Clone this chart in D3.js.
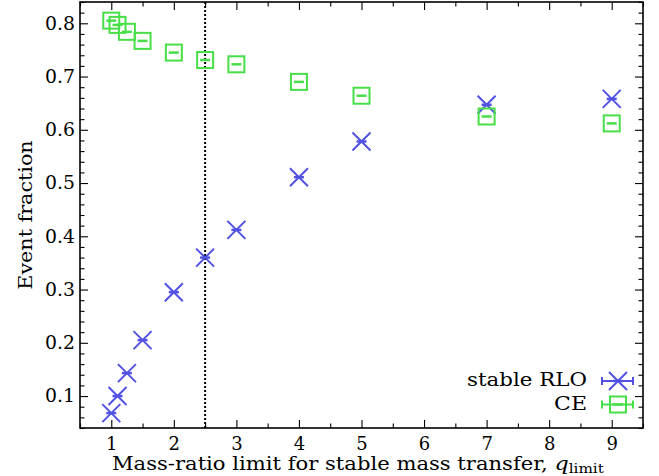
<!DOCTYPE html>
<html>
<head>
<meta charset="utf-8">
<script src="https://cdn.jsdelivr.net/npm/d3@7"></script>
<style>
  html, body { margin: 0; padding: 0; background: #fff; }
  svg text { font-family: "DejaVu Serif", "Liberation Serif", serif; fill: #000; }
</style>
</head>
<body>
<svg id="chart" width="659" height="476"></svg>
<script>
// Mass-ratio limits used for stable mass transfer
const qLimit = [1, 1.1, 1.25, 1.5, 2, 2.5, 3, 4, 5, 7, 9];
// Fraction of events going through stable Roche-lobe overflow
const stableRLO = [0.068, 0.100, 0.143, 0.205, 0.295, 0.360, 0.412, 0.511, 0.578, 0.647, 0.658];
// Fraction of events going through common envelope
const commonEnvelope = [0.805, 0.797, 0.784, 0.767, 0.745, 0.731, 0.723, 0.690, 0.664, 0.625, 0.612];
// Axis ticks
const xTicks = [1, 2, 3, 4, 5, 6, 7, 8, 9];
const yTicks = [0.1, 0.2, 0.3, 0.4, 0.5, 0.6, 0.7, 0.8];
// Reference limit marked by the dotted line
const refLimit = [2.5];

const series = [
  { name: "stable RLO", values: stableRLO, color: "#5151e3", marker: "x" },
  { name: "CE", values: commonEnvelope, color: "#48de48", marker: "square" }
];

const svg = d3.select("#chart");
const margin = { left: 80, right: 16, top: 2, bottom: 48 };
const W = 659, H = 476;
const x = d3.scaleLinear().domain([0.5, 9.5]).range([margin.left, W - margin.right]);
const y = d3.scaleLinear().domain([0.04, 0.84]).range([H - margin.bottom, margin.top]);

const x0 = x.range()[0], x1 = x.range()[1];
const y0 = y.range()[0], y1 = y.range()[1];

// Horizontally stretch a text element about anchor ax so its width becomes w
function stretchTo(sel, w, ax) {
  sel.each(function () {
    const bw = this.getBBox().width;
    if (!bw) return;
    const s = w / bw;
    const prev = d3.select(this).attr("transform") || "";
    d3.select(this).attr("transform", `${prev} translate(${ax},0) scale(${s},1) translate(${-ax},0)`);
  });
}

// Reference line
svg.append("line")
  .attr("x1", x(refLimit[0])).attr("x2", x(refLimit[0]))
  .attr("y1", y1).attr("y2", y0)
  .attr("stroke", "#000").attr("stroke-width", 2)
  .attr("stroke-dasharray", "2,2");

// Markers
function drawMarker(g, kind, color, cx, cy) {
  if (kind === "x") {
    const s = 9;
    g.append("path")
      .attr("d", `M${cx - s},${cy - s}L${cx + s},${cy + s}M${cx - s},${cy + s}L${cx + s},${cy - s}`)
      .attr("stroke", color).attr("stroke-width", 2).attr("fill", "none");
  } else {
    const s = 8;
    g.append("rect")
      .attr("x", cx - s).attr("y", cy - s).attr("width", 2 * s).attr("height", 2 * s)
      .attr("stroke", color).attr("stroke-width", 2).attr("fill", "none");
  }
  // error bar caps (error smaller than the marker)
  g.append("line")
    .attr("x1", cx - 5).attr("x2", cx + 5).attr("y1", cy).attr("y2", cy)
    .attr("stroke", color).attr("stroke-width", 2.5);
}

series.forEach(s => {
  const g = svg.append("g");
  qLimit.forEach((q, i) => drawMarker(g, s.marker, s.color, x(q), y(s.values[i])));
});

// Axes frame and ticks (inward, on all four sides)
const axisG = svg.append("g");
const tickLen = 8, minorLen = 4.5;
const xMinor = d3.range(0.5, 9.51, 0.5).filter(v => !xTicks.includes(v));
const yMinor = d3.range(0.04, 0.841, 0.02).map(v => +v.toFixed(2)).filter(v => !yTicks.some(t => Math.abs(t - v) < 1e-6));

// bottom
const bottom = axisG.append("g").attr("transform", `translate(0,${y0})`)
  .call(d3.axisBottom(x).tickValues(xTicks).tickFormat(d3.format("d")).tickSize(-tickLen).tickPadding(9));
axisG.append("g").attr("transform", `translate(0,${y0})`)
  .call(d3.axisBottom(x).tickValues(xMinor).tickFormat("").tickSize(-minorLen));
// top
axisG.append("g").attr("transform", `translate(0,${y1})`)
  .call(d3.axisTop(x).tickValues(xTicks).tickFormat("").tickSize(-tickLen));
axisG.append("g").attr("transform", `translate(0,${y1})`)
  .call(d3.axisTop(x).tickValues(xMinor).tickFormat("").tickSize(-minorLen));
// left
const left = axisG.append("g").attr("transform", `translate(${x0},0)`)
  .call(d3.axisLeft(y).tickValues(yTicks).tickFormat(d3.format(".1f")).tickSize(-tickLen).tickPadding(5));
axisG.append("g").attr("transform", `translate(${x0},0)`)
  .call(d3.axisLeft(y).tickValues(yMinor).tickFormat("").tickSize(-minorLen));
// right
axisG.append("g").attr("transform", `translate(${x1},0)`)
  .call(d3.axisRight(y).tickValues(yTicks).tickFormat("").tickSize(-tickLen));
axisG.append("g").attr("transform", `translate(${x1},0)`)
  .call(d3.axisRight(y).tickValues(yMinor).tickFormat("").tickSize(-minorLen));

axisG.selectAll(".domain").remove();
axisG.selectAll(".tick line").attr("stroke", "#000").attr("stroke-width", 1.1);
axisG.selectAll(".tick text").attr("font-size", 18).attr("font-family", "DejaVu Serif");
bottom.selectAll(".tick text").attr("dy", "0.71em");
left.selectAll(".tick text").each(function () {
  const t = d3.select(this);
  stretchTo(t, 30, +t.attr("x"));
});

axisG.append("rect")
  .attr("x", x0).attr("y", y1).attr("width", x1 - x0).attr("height", y0 - y1)
  .attr("fill", "none").attr("stroke", "#000").attr("stroke-width", 1.6);

// Axis titles
const xt = svg.append("text")
  .attr("x", 112).attr("y", 470)
  .attr("text-anchor", "start").attr("font-size", 18);
xt.append("tspan").text("Mass-ratio limit for stable mass transfer, ");
xt.append("tspan").attr("font-style", "italic").attr("font-size", 19).text("q");
xt.append("tspan").attr("font-size", 13).attr("dy", 3).text("limit");
stretchTo(xt, 493, 112);

const yt = svg.append("text")
  .attr("transform", `translate(32,${(y0 + y1) / 2}) rotate(-90)`)
  .attr("x", 0).attr("y", 0)
  .attr("text-anchor", "middle").attr("font-size", 18)
  .text("Event fraction");
stretchTo(yt, 150, 0);

// Legend (labels first, then handles)
const legend = svg.append("g");
const legendWidths = [120, 33];
series.forEach((s, i) => {
  const ly = 381 + i * 23.5;
  const lt = legend.append("text")
    .attr("x", 587).attr("y", ly + 5.5)
    .attr("text-anchor", "end").attr("font-size", 18)
    .text(s.name);
  stretchTo(lt, legendWidths[i], 587);
  const hx = 618;
  legend.append("line").attr("x1", hx - 16).attr("x2", hx + 15).attr("y1", ly).attr("y2", ly)
    .attr("stroke", s.color).attr("stroke-width", 2);
  [hx - 16, hx + 15].forEach(cx => legend.append("line")
    .attr("x1", cx).attr("x2", cx).attr("y1", ly - 4).attr("y2", ly + 4)
    .attr("stroke", s.color).attr("stroke-width", 2));
  drawMarker(legend, s.marker, s.color, hx, ly);
});
</script>
</body>
</html>
